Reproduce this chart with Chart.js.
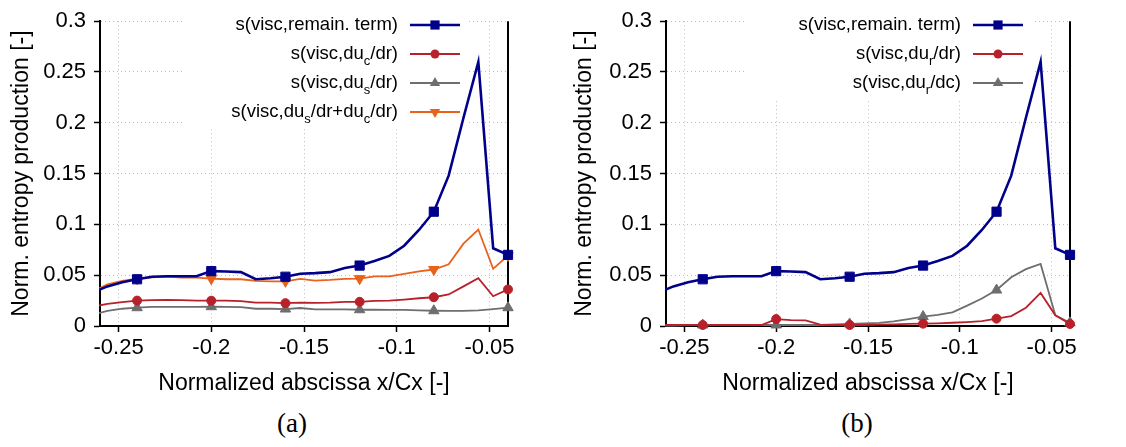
<!DOCTYPE html>
<html>
<head>
<meta charset="utf-8">
<script src="https://cdn.jsdelivr.net/npm/chart.js@4.4.1/dist/chart.umd.min.js"></script>
<style>
  body { margin: 0; background: #fff; }
  #wrap { position: relative; width: 1126px; height: 447px; overflow: hidden; }
  canvas { position: absolute; top: 0; }
  .cap { position: absolute; top: 408px; width: 60px; text-align: center;
         font-family: "Liberation Serif", serif; font-size: 27px; color: #000; }
</style>
</head>
<body>
<div id="wrap">
  <canvas id="chartA" width="563" height="400" style="left:0"></canvas>
  <canvas id="chartB" width="563" height="400" style="left:563px"></canvas>
  <div class="cap" style="left:262px">(a)</div>
  <div class="cap" style="left:827px">(b)</div>
</div>
<script>
// abscissa of the sampled points (x/Cx)
const xs = [-0.264, -0.256, -0.248, -0.24, -0.232, -0.224, -0.216, -0.208, -0.2, -0.192,
            -0.184, -0.176, -0.168, -0.16, -0.152, -0.144, -0.136, -0.128, -0.12, -0.112,
            -0.104, -0.096, -0.088, -0.08, -0.072, -0.064, -0.056, -0.048, -0.04];

const remainTerm = [0.033, 0.039, 0.043, 0.046, 0.0485, 0.049, 0.0489, 0.049, 0.054, 0.0537,
                    0.053, 0.046, 0.047, 0.0485, 0.0514, 0.052, 0.053, 0.057, 0.0595, 0.064,
                    0.069, 0.079, 0.0945, 0.1125, 0.148, 0.205, 0.26, 0.0765, 0.070];

// panel (a)
const duc = [0.019, 0.0217, 0.0236, 0.025, 0.0255, 0.0256, 0.0255, 0.025, 0.0249, 0.025,
             0.0245, 0.023, 0.023, 0.0225, 0.023, 0.0228, 0.023, 0.0238, 0.0238, 0.0248,
             0.025, 0.026, 0.0273, 0.0283, 0.031, 0.039, 0.047, 0.0293, 0.036];
const dus = [0.011, 0.015, 0.017, 0.018, 0.0188, 0.0188, 0.0188, 0.0188, 0.019, 0.0188,
             0.0185, 0.017, 0.017, 0.0167, 0.0177, 0.0164, 0.0164, 0.0164, 0.016, 0.016,
             0.0158, 0.0158, 0.0154, 0.015, 0.0148, 0.0148, 0.0154, 0.0167, 0.018];
const dusDuc = [0.034, 0.041, 0.0444, 0.0466, 0.048, 0.0485, 0.0476, 0.0476, 0.0466, 0.046,
                0.046, 0.0444, 0.044, 0.044, 0.0463, 0.0447, 0.0453, 0.0463, 0.0466, 0.0489,
                0.0489, 0.0514, 0.0537, 0.0556, 0.0608, 0.081, 0.095, 0.0563, 0.0694];

// panel (b)
const durDr = [0.001, 0.001, 0.001, 0.001, 0.001, 0.001, 0.001, 0.001, 0.0068, 0.0058,
               0.0055, 0.0013, 0.001, 0.001, 0.001, 0.0013, 0.0016, 0.002, 0.0023, 0.0026,
               0.0032, 0.0039, 0.0048, 0.0072, 0.0097, 0.018, 0.0325, 0.0106, 0.002];
const durDc = [0.0005, 0.0005, 0.0008, 0.001, 0.001, 0.001, 0.001, 0.001, 0.001, 0.001,
               0.001, 0.001, 0.0015, 0.002, 0.0026, 0.003, 0.0045, 0.0068, 0.0093, 0.011,
               0.0135, 0.02, 0.027, 0.0354, 0.048, 0.056, 0.061, 0.0106, 0.0032];

const xTicks = [-0.25, -0.2, -0.15, -0.1, -0.05];
const xTickLabels = ['-0.25', '-0.2', '-0.15', '-0.1', '-0.05'];
const yTicks = [0, 0.05, 0.1, 0.15, 0.2, 0.25, 0.3];
const yTickLabels = ['0', '0.05', '0.1', '0.15', '0.2', '0.25', '0.3'];

const FONT = '"Liberation Sans", Arial, sans-serif';

// legend labels, pieces with sub:true are subscripts
const seriesA = [
  { label: [{ t: 's(visc,remain. term)' }], values: remainTerm, color: '#00008b', width: 2.6, style: 'rect', radius: 6.5 },
  { label: [{ t: 's(visc,du' }, { t: 'c', sub: true }, { t: '/dr)' }], values: duc, color: '#b8202a', width: 1.8, style: 'circle', radius: 4.5 },
  { label: [{ t: 's(visc,du' }, { t: 's', sub: true }, { t: '/dr)' }], values: dus, color: '#6e6e6e', width: 1.8, style: 'triangle', radius: 6 },
  { label: [{ t: 's(visc,du' }, { t: 's', sub: true }, { t: '/dr+du' }, { t: 'c', sub: true }, { t: '/dr)' }], values: dusDuc, color: '#e8621c', width: 1.8, style: 'triangle', rot: 180, radius: 6 }
];
const seriesB = [
  { label: [{ t: 's(visc,remain. term)' }], values: remainTerm, color: '#00008b', width: 2.6, style: 'rect', radius: 6.5 },
  { label: [{ t: 's(visc,du' }, { t: 'r', sub: true }, { t: '/dr)' }], values: durDr, color: '#b8202a', width: 1.8, style: 'circle', radius: 4.5 },
  { label: [{ t: 's(visc,du' }, { t: 'r', sub: true }, { t: '/dc)' }], values: durDc, color: '#6e6e6e', width: 1.8, style: 'triangle', radius: 6 }
];

function marker(ctx, s, x, y) {
  const r = s.radius;
  ctx.beginPath();
  if (s.style === 'rect') {
    const h = r * Math.SQRT1_2;
    ctx.rect(x - h, y - h, 2 * h, 2 * h);
  } else if (s.style === 'circle') {
    ctx.arc(x, y, r, 0, Math.PI * 2);
  } else {
    const d = s.rot ? -1 : 1;
    ctx.moveTo(x, y - d * r);
    ctx.lineTo(x + r * 0.866, y + d * r / 2);
    ctx.lineTo(x - r * 0.866, y + d * r / 2);
    ctx.closePath();
  }
  ctx.fill();
}

function legendPlugin(series, box) {
  return {
    id: 'sideLegend',
    beforeDatasetsDraw(chart) {
      const ctx = chart.ctx, a = chart.chartArea;
      ctx.save();
      ctx.fillStyle = '#fff';
      ctx.fillRect(box[0], box[1], box[2], box[3]);
      // right frame line
      ctx.strokeStyle = '#000';
      ctx.lineWidth = 2;
      ctx.beginPath();
      ctx.moveTo(a.right, a.top);
      ctx.lineTo(a.right, a.bottom);
      ctx.stroke();
      ctx.restore();
    },
    afterDraw(chart) {
      const ctx = chart.ctx;
      ctx.save();
      ctx.textBaseline = 'middle';
      series.forEach((s, i) => {
        const y = 25 + i * 29;
        // text, right aligned
        let w = 0;
        s.label.forEach(p => {
          ctx.font = p.sub ? '13px ' + FONT : '18.5px ' + FONT;
          p.w = ctx.measureText(p.t).width;
          w += p.w;
        });
        let x = 398 - w;
        ctx.fillStyle = '#000';
        s.label.forEach(p => {
          ctx.font = p.sub ? '13px ' + FONT : '18.5px ' + FONT;
          ctx.fillText(p.t, x, p.sub ? y + 7 : y);
          x += p.w;
        });
        // sample
        ctx.strokeStyle = s.color;
        ctx.fillStyle = s.color;
        ctx.lineWidth = s.width;
        ctx.beginPath();
        ctx.moveTo(410, y);
        ctx.lineTo(460, y);
        ctx.stroke();
        marker(ctx, s, 435, y);
      });
      ctx.restore();
    }
  };
}

function makeChart(id, series, yWidth, padRight, box) {
  const tickFont = { family: FONT, size: 22 };
  const titleFont = { family: FONT, size: 23 };
  new Chart(document.getElementById(id), {
    type: 'line',
    data: {
      datasets: series.map(s => ({
        data: xs.map((x, i) => ({ x: x, y: s.values[i] })),
        borderColor: s.color,
        backgroundColor: s.color,
        borderWidth: s.width,
        pointStyle: s.style,
        pointRotation: s.rot || 0,
        pointBorderWidth: 1,
        pointRadius: c => (c.dataIndex % 5 === 3 ? s.radius : 0),
        tension: 0,
        fill: false,
        clip: { left: 1, right: 10, top: 10, bottom: 10 }
      }))
    },
    options: {
      responsive: false,
      animation: false,
      layout: { padding: { top: 14, right: padRight, bottom: 0, left: 0 } },
      plugins: { legend: { display: false }, tooltip: { enabled: false } },
      scales: {
        x: {
          type: 'linear',
          min: -0.26,
          max: -0.04,
          afterBuildTicks: a => { a.ticks = xTicks.map(v => ({ value: v })); },
          afterFit: a => { a.height = 74; },
          ticks: { callback: (v, i) => xTickLabels[i], font: tickFont, color: '#000',
                   padding: 3, maxRotation: 0, autoSkip: false },
          grid: { color: '#bdbdbd', lineWidth: 1, tickColor: '#000', tickLength: 6, tickWidth: 1.5 },
          border: { color: '#000', width: 2, dash: [1, 3] },
          title: { display: true, text: 'Normalized abscissa x/Cx [-]', font: titleFont,
                   color: '#000', padding: { top: 4, bottom: 3 } }
        },
        y: {
          min: 0,
          max: 0.3,
          afterBuildTicks: a => { a.ticks = yTicks.map(v => ({ value: v })); },
          afterFit: a => { a.width = yWidth; },
          ticks: { callback: (v, i) => yTickLabels[i], font: tickFont, color: '#000', padding: 8 },
          grid: { color: '#bdbdbd', lineWidth: 1, tickColor: '#000', tickLength: 6, tickWidth: 1.5 },
          border: { color: '#000', width: 2, dash: [1, 3] },
          title: { display: true, text: 'Norm. entropy production [-]', font: titleFont,
                   color: '#000', padding: { top: 8, bottom: 8 } }
        }
      }
    },
    plugins: [legendPlugin(series, box)]
  });
}

makeChart('chartA', seriesA, 100, 55, [183, 14, 284, 114]);
makeChart('chartB', seriesB, 103, 56, [183, 14, 287, 86]);
</script>
</body>
</html>
